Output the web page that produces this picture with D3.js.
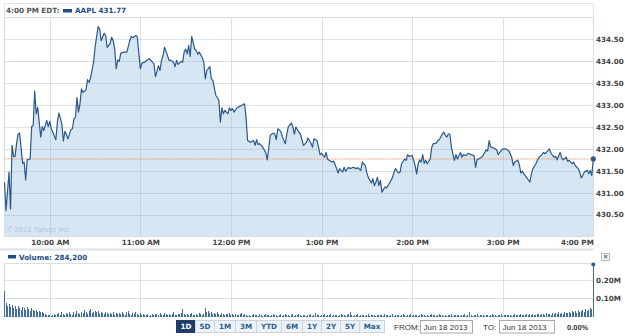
<!DOCTYPE html>
<html>
<head>
<meta charset="utf-8">
<script src="https://cdn.jsdelivr.net/npm/d3@7"></script>
<style>
  body { margin: 0; background: #fff; }
  svg { display: block; }
</style>
</head>
<body>
<div id="chart"></div>
<script>
// AAPL intraday, Jun 18 2013 - minutes after 9:30 and last price
var pricePoints = [
  [0,431.24],[1,430.59],[3,431.47],[4,430.63],[5,432.08],[6,431.83],[7,431.83],[8,432.12],[9,432.34],[10,432.36],
  [12,431.67],[13,431.70],[14,431.29],[15,431.75],[17,431.77],[18,432.51],[19,432.53],[20,433.32],[21,432.80],[22,432.95],
  [24,432.27],[25,432.51],[26,432.42],[28,432.65],[29,432.51],[30,432.63],[31,432.46],[32,432.38],[34,432.21],[35,432.61],
  [36,432.82],[38,432.57],[39,432.18],[40,432.40],[41,432.33],[42,432.23],[44,432.44],[45,432.46],[46,432.69],[47,432.72],
  [48,433.17],[49,432.84],[50,433.03],[51,433.37],[52,433.29],[54,433.35],[55,433.58],[56,433.52],[57,433.62],[59,433.98],
  [60,434.32],[62,434.79],[63,434.74],[64,434.47],[66,434.64],[67,434.59],[68,434.32],[70,434.41],[71,434.55],[72,434.47],
  [73,434.28],[74,433.83],[75,434.03],[76,434.00],[77,434.18],[79,434.21],[81,434.21],[83,434.47],[84,434.57],[85,434.54],
  [87,434.59],[88,434.55],[89,434.17],[90,433.83],[91,433.96],[93,433.98],[94,434.02],[96,434.06],[98,433.98],[99,433.94],
  [100,433.65],[102,433.90],[103,433.79],[104,434.02],[105,434.13],[106,434.32],[108,434.13],[109,434.02],[110,434.03],[112,433.98],
  [113,433.88],[114,434.02],[115,433.93],[117,434.00],[118,433.98],[119,434.21],[120,434.28],[121,434.17],[122,434.36],[123,434.11],
  [124,434.57],[126,434.28],[127,434.25],[128,434.16],[129,434.21],[131,434.08],[132,433.98],[133,433.60],[134,433.79],[136,433.88],
  [137,433.60],[138,433.56],[140,433.22],[142,433.11],[143,432.61],[144,432.94],[145,432.80],[146,432.88],[148,432.80],[149,432.94],
  [150,432.88],[151,432.92],[152,432.84],[154,432.94],[156,432.97],[157,432.99],[159,433.03],[160,432.72],[161,432.19],[163,432.15],
  [165,432.19],[166,432.08],[167,432.21],[168,432.10],[169,432.12],[171,432.04],[173,431.92],[174,431.75],[175,432.00],[176,432.31],
  [178,432.36],[179,432.34],[180,432.21],[181,432.46],[183,432.40],[184,432.28],[186,432.12],[187,432.34],[188,432.51],[190,432.59],
  [191,432.50],[192,432.34],[193,432.50],[195,432.38],[196,432.34],[198,432.08],[200,432.15],[201,432.25],[203,432.13],[204,432.04],
  [205,432.23],[207,432.19],[208,432.04],[209,431.87],[210,431.90],[212,431.81],[213,431.92],[214,431.77],[215,431.74],[217,431.70],
  [218,431.72],[219,431.64],[220,431.55],[221,431.45],[222,431.55],[224,431.47],[225,431.58],[226,431.49],[228,431.58],[229,431.55],
  [231,431.58],[233,431.55],[234,431.57],[236,431.51],[237,431.70],[239,431.62],[240,431.45],[241,431.35],[243,431.22],[244,431.32],
  [245,431.16],[246,431.24],[247,431.35],[248,431.16],[249,431.28],[250,431.01],[252,431.13],[253,431.11],[254,431.16],[256,431.28],
  [257,431.35],[258,431.47],[259,431.55],[261,431.45],[262,431.47],[263,431.66],[265,431.77],[266,431.74],[267,431.87],[268,431.83],
  [270,431.85],[271,431.74],[272,431.62],[273,431.43],[274,431.66],[275,431.75],[276,431.70],[277,431.87],[278,431.67],[279,431.74],
  [280,431.66],[282,431.77],[283,432.04],[284,432.12],[286,432.13],[287,432.19],[288,432.21],[290,432.34],[291,432.38],[292,432.31],
  [293,432.27],[294,432.34],[295,432.34],[296,432.04],[298,431.74],[299,431.87],[300,431.77],[302,431.92],[303,431.81],[304,431.87],
  [306,431.85],[307,431.90],[309,431.87],[311,431.85],[312,431.58],[313,431.75],[314,431.77],[316,431.81],[317,431.85],[319,431.98],
  [320,431.95],[321,432.19],[322,432.04],[323,432.04],[324,432.02],[326,431.98],[327,431.87],[328,431.92],[330,432.00],[331,432.00],
  [332,432.00],[334,431.96],[335,431.89],[336,431.80],[337,431.62],[338,431.70],[340,431.74],[341,431.64],[342,431.45],[343,431.49],
  [344,431.43],[346,431.34],[347,431.29],[348,431.24],[349,431.43],[350,431.55],[352,431.66],[353,431.74],[354,431.81],[356,431.87],
  [357,431.92],[358,431.89],[360,431.96],[361,432.00],[362,431.90],[364,431.81],[365,431.83],[366,431.75],[368,431.92],[369,431.81],
  [370,431.75],[372,431.81],[373,431.72],[374,431.74],[376,431.66],[377,431.70],[378,431.62],[380,431.55],[381,431.47],[382,431.34],
  [383,431.39],[384,431.47],[386,431.51],[387,431.43],[388,431.51],[389,431.39],[390,431.77]
];

// volume per minute, in thousands of shares (index = minutes after 9:30)
var volumes = [
  138,72,56,66,50,62,44,58,40,55, 48,36,52,44,34,50,42,30,46,38,
  28,34,25,30,22,26,18,12,8,6, 10,5,9,14,7,12,18,10,22,15,
  8,20,12,25,16,9,24,14,30,18, 11,26,20,35,22,15,28,40,18,24,
  30,22,28,16,25,20,14,24,18,12, 20,15,22,10,18,14,20,12,26,15,
  10,22,30,14,8,18,12,24,16,10, 20,8,14,6,10,12,5,9,15,7,
  11,14,8,18,10,6,20,12,9,16, 7,13,22,10,8,15,11,18,42,12,
  9,16,8,12,20,10,6,14,9,18, 11,7,15,45,22,30,18,25,16,20,
  12,24,15,10,18,12,8,16,11,20, 9,13,7,15,10,6,12,18,9,14,
  8,5,10,4,7,12,6,9,5,11, 7,4,8,14,6,10,5,8,12,6,
  9,4,7,11,5,8,16,6,10,4, 7,12,5,9,6,14,8,5,10,7,
  4,9,6,12,5,8,18,7,10,5, 8,6,11,4,9,7,13,5,8,6,
  10,5,7,12,6,9,4,8,14,24, 7,5,9,6,11,4,8,6,10,5,
  7,12,5,8,6,9,4,7,10,6, 8,5,11,6,9,4,7,12,5,8,
  6,10,5,8,14,7,5,9,6,11, 4,8,6,10,5,7,12,6,9,5,
  8,4,7,11,6,9,5,8,13,6, 10,5,7,4,9,6,12,5,8,6,
  10,7,5,9,6,11,4,8,22,7, 5,9,6,12,5,8,6,10,4,7,
  9,5,8,11,6,7,4,9,6,12, 5,8,7,10,6,9,5,8,11,7,
  9,6,12,8,10,7,14,9,11,8, 13,10,8,15,11,9,16,12,10,18,
  12,15,10,20,14,17,12,22,16,19, 14,24,18,21,26,17,30,22,28,20,
  34,25,30,38,27,42,32,36,44,40, 284.2
];

var prevClose = 431.77;
var lastPrice = 431.77;
var lastVolume = "284,200";

var hourTicks = [30, 90, 150, 210, 270, 330, 390];
var hourLabels = ["10:00 AM", "11:00 AM", "12:00 PM", "1:00 PM", "2:00 PM", "3:00 PM", "4:00 PM"];
var priceTicks = [430.5, 431, 431.5, 432, 432.5, 433, 433.5, 434, 434.5];
var volTicks = [100, 200];
var volTickLabels = ["0.10M", "0.20M"];
var rangeButtons = ["1D", "5D", "1M", "3M", "YTD", "6M", "1Y", "2Y", "5Y", "Max"];

var W = 625, H = 336;
var left = 4.5, right = 593.5;
var navy = "#1f4e80";
var font = "'DejaVu Sans', Verdana, sans-serif";
var arial = "'Liberation Sans', Arial, sans-serif";

var svg = d3.select("#chart").append("svg")
    .attr("width", W)
    .attr("height", H);

var x = d3.scaleLinear().domain([0, 390]).range([left, right - 0.2]);
var y = d3.scaleLinear().domain([430, 435]).range([236.5, 17.5]);
var yv = d3.scaleLinear().domain([0, 290]).range([316.5, 263.5]);

// header strip
svg.append("rect")
    .attr("x", left).attr("y", 3.5)
    .attr("width", right - left).attr("height", 14)
    .attr("fill", "#fff").attr("stroke", "#e1e6eb");

svg.append("text")
    .attr("x", 6).attr("y", 13)
    .attr("font-family", font).attr("font-size", "7.2px").attr("font-weight", "bold")
    .attr("fill", "#555")
    .text("4:00 PM EDT:");

svg.append("rect")
    .attr("x", 63).attr("y", 9).attr("width", 9).attr("height", 3.5)
    .attr("fill", navy);

svg.append("text")
    .attr("x", 75).attr("y", 13)
    .attr("font-family", font).attr("font-size", "7.2px").attr("font-weight", "bold")
    .attr("fill", navy)
    .text("AAPL " + lastPrice.toFixed(2));

// price area + line
var area = d3.area()
    .x(function(d) { return x(d[0]); })
    .y0(y(430))
    .y1(function(d) { return y(d[1]); });

var line = d3.line()
    .x(function(d) { return x(d[0]); })
    .y(function(d) { return y(d[1]); });

svg.append("rect")
    .attr("x", left).attr("y", 17.5)
    .attr("width", right - left).attr("height", 219)
    .attr("fill", "#fff");

svg.append("path")
    .datum(pricePoints)
    .attr("d", area)
    .attr("fill", "#d6e6f2");

// grid
var grid = svg.append("g")
    .attr("stroke", "#9fb4c8")
    .attr("stroke-opacity", 0.4);

grid.selectAll("line.h")
    .data(priceTicks)
    .enter()
    .append("line")
    .attr("x1", left).attr("x2", right)
    .attr("y1", function(d) { return Math.round(y(d)) + 0.5; })
    .attr("y2", function(d) { return Math.round(y(d)) + 0.5; });

grid.selectAll("line.v")
    .data(hourTicks.slice(0, -1))
    .enter()
    .append("line")
    .attr("x1", function(d) { return Math.round(x(d)) + 0.5; })
    .attr("x2", function(d) { return Math.round(x(d)) + 0.5; })
    .attr("y1", 17.5).attr("y2", 236.5);

svg.append("rect")
    .attr("x", left).attr("y", 17.5)
    .attr("width", right - left).attr("height", 219)
    .attr("fill", "none").attr("stroke", "#d5dde5");

// previous close
svg.append("line")
    .attr("x1", left).attr("x2", right)
    .attr("y1", y(prevClose)).attr("y2", y(prevClose))
    .attr("stroke", "#f0a27a")
    .attr("stroke-dasharray", "2,1");

svg.append("text")
    .attr("x", 7).attr("y", 232)
    .attr("font-family", arial).attr("font-size", "7.5px")
    .attr("fill", "#b7c5d2")
    .text("\u00a9 2013 Yahoo! Inc.");

svg.append("path")
    .datum(pricePoints)
    .attr("d", line)
    .attr("fill", "none")
    .attr("stroke", "#2a588a")
    .attr("stroke-width", 1.2)
    .attr("stroke-linejoin", "round");

svg.append("circle")
    .attr("cx", x(390)).attr("cy", y(lastPrice)).attr("r", 2.6)
    .attr("fill", "#2d5b8d");

// axes
var xAxis = svg.append("g")
    .attr("transform", "translate(0,237)")
    .call(d3.axisBottom(x).tickValues(hourTicks).tickSize(0).tickPadding(3)
        .tickFormat(function(d, i) { return hourLabels[i]; }));
xAxis.select(".domain").remove();
xAxis.selectAll("text")
    .attr("font-family", font).attr("font-size", "7.2px").attr("font-weight", "bold")
    .attr("fill", "#444")
    .attr("text-anchor", function(d, i) { return i === hourTicks.length - 1 ? "end" : "middle"; });

var yAxis = svg.append("g")
    .attr("transform", "translate(" + right + ",0)")
    .call(d3.axisRight(y).tickValues(priceTicks).tickSize(0).tickPadding(2.5)
        .tickFormat(d3.format(".2f")));
yAxis.select(".domain").remove();
yAxis.selectAll("text")
    .attr("font-family", font).attr("font-size", "7.2px").attr("font-weight", "bold")
    .attr("fill", "#444");

// separator
svg.append("line")
    .attr("x1", 0).attr("x2", right)
    .attr("y1", 249.5).attr("y2", 249.5)
    .attr("stroke", "#dde2e7").attr("stroke-width", 2);

// volume header
svg.append("rect")
    .attr("x", 8).attr("y", 255).attr("width", 8).attr("height", 3.5)
    .attr("fill", navy);

svg.append("text")
    .attr("x", 19).attr("y", 259.5)
    .attr("font-family", font).attr("font-size", "7.2px").attr("font-weight", "bold")
    .attr("fill", navy)
    .text("Volume: " + lastVolume);

var closeBtn = svg.append("g").attr("transform", "translate(601.5,253.5)");
closeBtn.append("rect")
    .attr("width", 8).attr("height", 7)
    .attr("fill", "#f2f2f2").attr("stroke", "#b8bec6");
closeBtn.append("text")
    .attr("x", 4).attr("y", 5.8)
    .attr("text-anchor", "middle")
    .attr("font-family", arial).attr("font-size", "7px").attr("font-weight", "bold")
    .attr("fill", "#555")
    .text("\u00d7");

// volume panel
var vgrid = svg.append("g")
    .attr("stroke", "#9fb4c8")
    .attr("stroke-opacity", 0.4);

vgrid.selectAll("line.h")
    .data(volTicks)
    .enter()
    .append("line")
    .attr("x1", left).attr("x2", right)
    .attr("y1", function(d) { return Math.round(yv(d)) + 0.5; })
    .attr("y2", function(d) { return Math.round(yv(d)) + 0.5; });

vgrid.selectAll("line.v")
    .data(hourTicks.slice(0, -1))
    .enter()
    .append("line")
    .attr("x1", function(d) { return Math.round(x(d)) + 0.5; })
    .attr("x2", function(d) { return Math.round(x(d)) + 0.5; })
    .attr("y1", 263.5).attr("y2", 316.5);

svg.append("rect")
    .attr("x", left).attr("y", 263.5)
    .attr("width", right - left).attr("height", 53)
    .attr("fill", "none").attr("stroke", "#d5dde5");

svg.append("g")
    .attr("shape-rendering", "crispEdges")
    .selectAll("line")
    .data(volumes)
    .enter()
    .append("line")
    .attr("x1", function(d, i) { return Math.floor(x(i)) + 0.5; })
    .attr("x2", function(d, i) { return Math.floor(x(i)) + 0.5; })
    .attr("y1", yv(0))
    .attr("y2", function(d) { return yv(d); })
    .attr("stroke", "#406e9f")
    .attr("stroke-width", 1);

svg.append("circle")
    .attr("cx", x(390)).attr("cy", yv(volumes[390])).attr("r", 2)
    .attr("fill", "#2d5b8d");

var vAxis = svg.append("g")
    .attr("transform", "translate(" + right + ",0)")
    .call(d3.axisRight(yv).tickValues(volTicks).tickSize(0).tickPadding(2.5)
        .tickFormat(function(d, i) { return volTickLabels[i]; }));
vAxis.select(".domain").remove();
vAxis.selectAll("text")
    .attr("font-family", font).attr("font-size", "7.2px").attr("font-weight", "bold")
    .attr("fill", "#444");

// range buttons
var bx = 176.5;
rangeButtons.forEach(function(label, i) {
    var g = svg.append("g").attr("transform", "translate(" + bx + ",320.5)");
    var r = g.append("rect").attr("height", 12);
    var t = g.append("text")
        .attr("y", 8.6)
        .attr("font-family", font).attr("font-size", "7.2px").attr("font-weight", "bold")
        .attr("fill", i === 0 ? "#fff" : "#2f5f92")
        .text(label);
    var w = Math.round(t.node().getComputedTextLength() + 8.5);
    t.attr("x", w / 2).attr("text-anchor", "middle");
    r.attr("width", w)
        .attr("fill", i === 0 ? "#1e3d66" : "#edf2f7")
        .attr("stroke", i === 0 ? "#1e3d66" : "#c9d4df");
    bx += w;
});

// date range
function dateBox(label, lx, bxStart, bw) {
    svg.append("text")
        .attr("x", lx).attr("y", 329.5)
        .attr("font-family", arial).attr("font-size", "8px")
        .attr("fill", "#333")
        .text(label);
    svg.append("rect")
        .attr("x", bxStart).attr("y", 320.5)
        .attr("width", bw).attr("height", 12.5)
        .attr("fill", "#fff").attr("stroke", "#a9a9a9");
    svg.append("text")
        .attr("x", bxStart + 3).attr("y", 329.5)
        .attr("font-family", arial).attr("font-size", "8px")
        .attr("fill", "#333")
        .text("Jun 18 2013");
}
dateBox("FROM:", 394, 420.5, 52);
dateBox("TO:", 483, 499.5, 55);

svg.append("text")
    .attr("x", 567).attr("y", 329.5)
    .attr("font-family", arial).attr("font-size", "7.5px").attr("font-weight", "bold")
    .attr("fill", "#333")
    .text("0.00%");
</script>
</body>
</html>
